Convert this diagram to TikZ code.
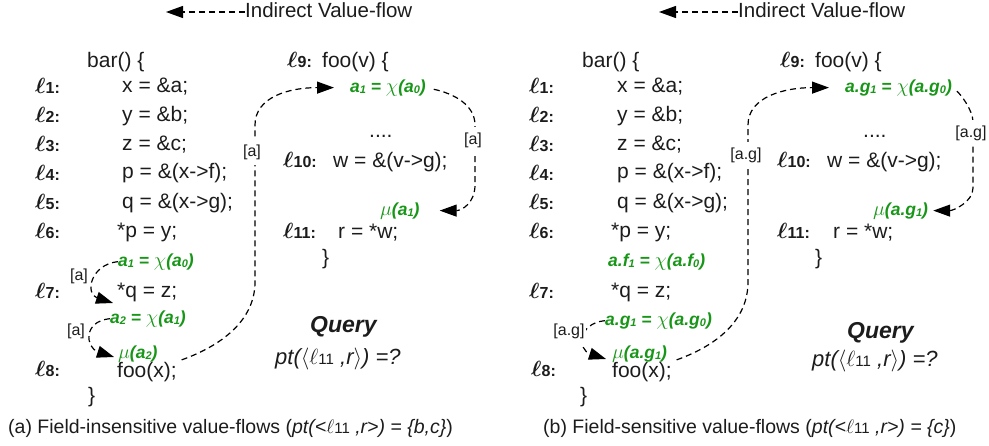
\RequirePackage{fix-cm}
\documentclass[tikz,border=0pt]{standalone}
\usepackage{fontspec}
\setmainfont{Liberation Sans}
\usetikzlibrary{arrows.meta}
\definecolor{vgreen}{RGB}{24,150,24}
\definecolor{ink}{RGB}{28,28,28}
\newcommand{\ellab}[1]{{\fontsize{22}{22}\selectfont\boldmath$\ell$}{\fontsize{16}{16}\selectfont\bfseries #1:}}
\newcommand{\lowsub}[1]{\raisebox{-1pt}{\fontsize{11}{11}\selectfont #1}}
\newcommand{\ptsub}[1]{{\fontsize{15}{15}\selectfont\upshape #1}}
\newcommand{\gchi}{{\fontsize{20}{20}\selectfont$\chi$}}
\newcommand{\gmu}{{\fontsize{20}{20}\selectfont$\mu$}}
\begin{document}
\begin{tikzpicture}[x=1pt,y=-1pt,
  code/.style={anchor=base west,inner sep=0pt,text=ink,font=\fontsize{21}{21}\selectfont},
  lab/.style={anchor=base west,inner sep=0pt,text=ink},
  grn/.style={anchor=base west,inner sep=0pt,text=vgreen,font=\fontsize{17.5}{17.5}\selectfont\bfseries\itshape},
  tag/.style={inner xsep=1.5pt,inner ysep=6pt,fill=white,text=ink,font=\fontsize{16}{16}\selectfont},
  flow/.style={line width=1.2pt,dash pattern=on 6pt off 4pt,-{Triangle[length=17pt,width=12pt]}},
  legtext/.style={anchor=base west,inner sep=0pt,text=ink,font=\fontsize{20.5}{20.5}\selectfont},
  query/.style={anchor=base west,inner sep=0pt,text=ink,font=\fontsize{23}{23}\selectfont\bfseries\itshape},
  ptq/.style={anchor=base west,inner sep=0pt,text=ink,font=\fontsize{22}{22}\selectfont\itshape},
  captext/.style={anchor=base west,inner sep=0pt,text=ink,font=\fontsize{19.5}{19.5}\selectfont}
]
\useasboundingbox (0,0) rectangle (989,445);

% ================= panel (a) =================
\node[legtext] (legA) at (245,17) {Indirect Value-flow};
\coordinate (legAtip) at (166,12);
\draw[flow] (legA.west |- legAtip) -- (legAtip);

\node[code] (barA) at (87,67) {bar() \{};
\node[lab] (l1A) at (35,93) {\ellab{1}};  \node[code] (s1A) at (122,92) {x = \&a;};
\node[lab] (l2A) at (35,122) {\ellab{2}}; \node[code] (s2A) at (122,121) {y = \&b;};
\node[lab] (l3A) at (35,151) {\ellab{3}}; \node[code] (s3A) at (122,150) {z = \&c;};
\node[lab] (l4A) at (35,180) {\ellab{4}}; \node[code] (s4A) at (122,178) {p = \&(x->f);};
\node[lab] (l5A) at (35,209) {\ellab{5}}; \node[code] (s5A) at (122,208) {q = \&(x->g);};
\node[lab] (l6A) at (35,238) {\ellab{6}}; \node[code] (s6A) at (117,237) {*p = y;};
\node[grn] (chiB) at (118,266) {a\lowsub{1} = \gchi(a\lowsub{0})};
\node[lab] (l7A) at (35,298) {\ellab{7}}; \node[code] (s7A) at (117,297) {*q = z;};
\node[grn] (chiC) at (110,323) {a\lowsub{2} = \gchi(a\lowsub{1})};
\node[grn] (muB) at (118,358) {\gmu(a\lowsub{2})};
\node[lab] (l8A) at (35,376) {\ellab{8}}; \node[code] (fooA) at (117,377) {foo(x);};
\node[code] (cbA1) at (88,402) {\}};

\node[lab] (l9A) at (287,67) {\ellab{9}};
\node[code] (fooVA) at (322,67) {foo(v) \{};
\node[grn] (chiA) at (350,92) {a\lowsub{1} = \gchi(a\lowsub{0})};
\node[code] (dotsA) at (369,137) {....};
\node[lab] (l10A) at (283,167) {\ellab{10}};
\node[code] (wA) at (333,167) {w = \&(v->g);};
\node[grn] (muA) at (380,215) {\gmu(a\lowsub{1})};
\node[lab] (l11A) at (283,238) {\ellab{11}};
\node[code] (rA) at (338,238) {r = *w;};
\node[code] (cbA2) at (322,264) {\}};

\node[query] (qA) at (310,332) {Query};
\node[ptq] (ptA) at (275,364) {pt($\langle\ell$\ptsub{11} ,r$\rangle$) =?};
\node[captext] (capA) at (8,433) {(a) Field-insensitive value-flows (\textit{pt(<$\ell$\ptsub{11} ,r>) = \{b,c\}})};

% connectors (a)
\draw[flow,shorten <=5pt] (fooA.north east) .. controls +(50,-18) and +(0,35) .. (255,282)
   -- (255,125) .. controls +(0,-28) and +(-45,0) .. ([xshift=-16pt]chiA.west);
\node[tag] (tA1) at (252,152) {[a]};
\draw[flow,shorten <=8pt] (chiA.east) .. controls +(28,6) and +(0,-20) .. (475,125)
   -- (475,185) .. controls +(0,18) and +(22,0) .. ([xshift=20pt]muA.east);
\node[tag] (tA2) at (473,140) {[a]};
\draw[flow] (chiB.west) .. controls +(-28,3) and +(-28,-9) .. ([xshift=-4pt,yshift=-6pt]s7A.base west);
\node[tag] (tA3) at (79,276) {[a]};
\draw[flow] (chiC.west) .. controls +(-28,3) and +(-28,-9) .. ([xshift=-4pt,yshift=1pt]muB.base west);
\node[tag] (tA4) at (76,331) {[a]};

% ================= panel (b) =================
\node[legtext] (legB) at (738,17) {Indirect Value-flow};
\coordinate (legBtip) at (659,12);
\draw[flow] (legB.west |- legBtip) -- (legBtip);

\node[code] (barB) at (582,67) {bar() \{};
\node[lab] (l1B) at (529,93) {\ellab{1}};  \node[code] (s1B) at (617,92) {x = \&a;};
\node[lab] (l2B) at (529,122) {\ellab{2}}; \node[code] (s2B) at (617,121) {y = \&b;};
\node[lab] (l3B) at (529,151) {\ellab{3}}; \node[code] (s3B) at (617,150) {z = \&c;};
\node[lab] (l4B) at (529,180) {\ellab{4}}; \node[code] (s4B) at (617,178) {p = \&(x->f);};
\node[lab] (l5B) at (529,209) {\ellab{5}}; \node[code] (s5B) at (617,208) {q = \&(x->g);};
\node[lab] (l6B) at (529,238) {\ellab{6}}; \node[code] (s6B) at (611,237) {*p = y;};
\node[grn] (chiD) at (608,266) {a.f\lowsub{1} = \gchi(a.f\lowsub{0})};
\node[lab] (l7B) at (529,298) {\ellab{7}}; \node[code] (s7B) at (611,297) {*q = z;};
\node[grn] (chiE) at (605,325) {a.g\lowsub{1} = \gchi(a.g\lowsub{0})};
\node[grn] (muD) at (612,358) {\gmu(a.g\lowsub{1})};
\node[lab] (l8B) at (531,376) {\ellab{8}}; \node[code] (fooB) at (612,377) {foo(x);};
\node[code] (cbB1) at (580,402) {\}};

\node[lab] (l9B) at (780,67) {\ellab{9}};
\node[code] (fooVB) at (815,67) {foo(v) \{};
\node[grn] (chiF) at (845,92) {a.g\lowsub{1} = \gchi(a.g\lowsub{0})};
\node[code] (dotsB) at (863,137) {....};
\node[lab] (l10B) at (777,167) {\ellab{10}};
\node[code] (wB) at (827,167) {w = \&(v->g);};
\node[grn] (muE) at (873,215) {\gmu(a.g\lowsub{1})};
\node[lab] (l11B) at (777,238) {\ellab{11}};
\node[code] (rB) at (833,238) {r = *w;};
\node[code] (cbB2) at (815,264) {\}};

\node[query] (qB) at (847,338) {Query};
\node[ptq] (ptB) at (812,366) {pt($\langle\ell$\ptsub{11} ,r$\rangle$) =?};
\node[captext] (capB) at (543,433) {(b) Field-sensitive value-flows (\textit{pt(<$\ell$\ptsub{11} ,r>) = \{c\}})};

% connectors (b)
\draw[flow,shorten <=5pt] (fooB.north east) .. controls +(50,-18) and +(0,35) .. (748,282)
   -- (748,125) .. controls +(0,-28) and +(-45,0) .. ([xshift=-16pt]chiF.west);
\node[tag] (tB1) at (746,155) {[a.g]};
\draw[flow,shorten <=6pt] (chiF.east) .. controls +(8,6) and +(0,-12) .. (973,122)
   -- (973,188) .. controls +(0,14) and +(20,0) .. ([xshift=5pt]muE.east);
\node[tag] (tB2) at (971,133) {[a.g]};
\draw[flow] (chiE.west) .. controls +(-28,3) and +(-28,-9) .. ([xshift=-6pt,yshift=-1pt]muD.base west);
\node[tag] (tB3) at (569,331) {[a.g]};
\end{tikzpicture}
\end{document}
